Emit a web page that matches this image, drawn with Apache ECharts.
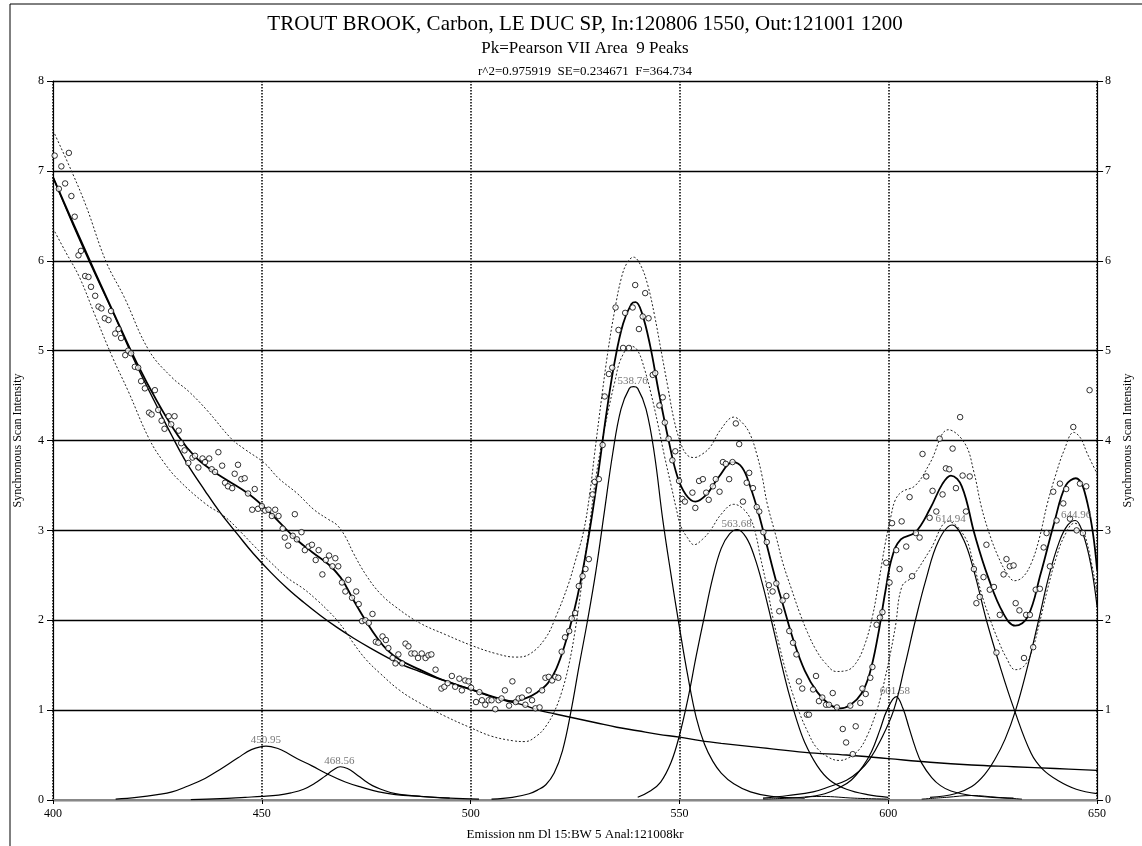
<!DOCTYPE html>
<html>
<head>
<meta charset="utf-8">
<script src="https://cdn.jsdelivr.net/npm/echarts@6/dist/echarts.min.js"></script>
<style>html,body{margin:0;padding:0;background:#fff;}#c{width:1142px;height:846px;}</style>
</head>
<body>
<div id="c"></div>
<script>
// ---- tick values ----
var xTicks = [400, 450, 500, 550, 600, 650];
var yTicks = [0, 1, 2, 3, 4, 5, 6, 7, 8];

// ---- observed data points [nm, intensity] ----
var observed = [
[400.4,7.17],[403.8,7.20],[402,7.05],[401.4,6.80],[402.9,6.86],[404.4,6.72],[405.2,6.49],[406.1,6.06],[406.7,6.11],[407.7,5.83],[408.5,5.82],[409.1,5.71],[410.1,5.61],[410.9,5.49],[411.6,5.47],[412.4,5.36],[413.3,5.34],[413.9,5.44],[414.9,5.19],[415.7,5.24],[416.3,5.14],[417.3,4.95],[418,5.0],[418.7,4.97],[419.6,4.82],[420.4,4.81],[421.1,4.66],[422,4.58],[424.4,4.56],[423,4.31],[423.6,4.29],[425.2,4.34],[426,4.22],[426.7,4.13],[427.7,4.27],[428.3,4.18],[429.1,4.27],[430.1,4.11],
[430.7,3.97],[431.5,3.89],[432.4,3.75],[433.4,3.81],[434,3.83],[434.8,3.70],[435.8,3.80],[436.4,3.76],[437.4,3.80],[438,3.68],[438.8,3.65],[439.6,3.87],[440.5,3.72],[441.2,3.53],[441.9,3.49],[442.9,3.47],[443.5,3.63],[444.3,3.73],[445.1,3.57],[445.9,3.58],[446.7,3.41],[447.7,3.23],[448.3,3.46],[449.1,3.24],[450,3.27],[450.8,3.22],[451.6,3.23],[452.4,3.16],[453.2,3.23],[454,3.16],[455,3.02],[455.5,2.92],[456.3,2.83],[457.4,2.94],[457.9,3.18],[458.4,2.90],
[459.5,2.98],[460.3,2.78],[461.2,2.82],[462,2.84],[462.9,2.67],[463.6,2.78],[464.5,2.51],[465.3,2.67],[466.1,2.72],[466.9,2.60],[467.6,2.69],[468.3,2.60],[469.2,2.42],[470,2.32],[470.7,2.45],[471.6,2.25],[472.6,2.32],[473.2,2.18],[474,1.99],[474.8,2.0],[475.6,1.97],[476.5,2.07],[477.3,1.76],[477.9,1.75],[478.9,1.82],[479.7,1.78],[480.3,1.69],[481.3,1.58],[482,1.52],[482.7,1.62],[483.6,1.52],[484.4,1.74],[485.1,1.71],[485.8,1.63],[486.6,1.63],[487.4,1.58],[488.3,1.63],[489.2,1.58],[489.9,1.61],[490.6,1.62],[491.6,1.45],[493,1.24],[493.7,1.26],[494.5,1.30],[495.5,1.38],[496.3,1.26],[497.3,1.35],[497.9,1.22],[498.7,1.33],[499.5,1.32],[500.1,1.25],[501.3,1.09],[502.1,1.2],[502.7,1.11],[503.5,1.06],[504.3,1.11],[505,1.11],[505.9,1.01],[506.7,1.11],[507.4,1.13],[508.2,1.22],[509.2,1.05],[510,1.32],[510.8,1.09],[511.5,1.13],[512.3,1.14],[513.1,1.06],[513.9,1.22],[514.7,1.11],[515.5,1.02],[516.5,1.03],[517.1,1.22],[517.9,1.36],[518.7,1.37],[519.5,1.33],[520.3,1.37],[521,1.36],[521.8,1.65],[522.6,1.81],[523.6,1.88],[524.2,2.02],[525,2.08],[525.9,2.38],[526.8,2.49],[527.5,2.57],[528.3,2.68],[529.2,3.4],[529.7,3.54],
[530.7,3.57],[531.6,3.95],[532.1,4.49],[533.1,4.74],[533.9,4.81],[534.7,5.48],[535.4,5.23],[536.5,5.03],[537,5.42],[537.9,5.03],[538.8,5.48],[539.4,5.73],[540.3,5.24],[541.2,5.38],[541.8,5.64],[542.6,5.36],[543.6,4.73],[544.2,4.75],[545.2,4.39],[546,4.48],[546.5,4.2],[547.4,4.02],[548.3,3.78],[549,3.88],[549.9,3.55],[550.7,3.35],[551.3,3.32],[553.1,3.42],
[553.8,3.25],[554.7,3.55],[555.6,3.57],[556.4,3.42],[557,3.34],[558,3.49],[558.7,3.57],[559.6,3.43],[560.4,3.76],[561.1,3.74],[561.9,3.57],[562.7,3.76],[563.5,4.19],[564.3,3.96],[565.2,3.32],[566.1,3.53],[566.7,3.64],[567.6,3.47],[568.5,3.26],[569.1,3.21],[570.1,2.98],[570.9,2.87],
[571.4,2.39],[572.3,2.32],[573.2,2.41],[573.9,2.10],[574.7,2.22],[575.6,2.27],[576.3,1.88],[577.2,1.75],[578,1.62],[578.6,1.32],[579.4,1.24],[580.5,0.95],[581,0.95],[582,1.23],[582.7,1.38],[583.4,1.10],[584.2,1.14],[585.1,1.06],[585.8,1.06],[586.7,1.19],[587.7,1.03],[589.1,0.79],[589.9,0.64],[590.9,1.05],[591.5,0.51],[592.2,0.82],[593.3,1.08],[593.8,1.24],[594.6,1.18],[595.7,1.36],[596.2,1.48],[597.2,1.95],[598,2.03],[598.6,2.09],[599.5,2.64],[600.3,2.42],[600.9,3.08],[601.9,2.78],[602.7,2.57],[603.2,3.10],
[604.3,2.82],[605.1,3.37],[605.7,2.49],[606.6,2.97],[607.5,2.92],[608.2,3.85],[609.1,3.6],[609.9,3.14],[610.6,3.44],[611.5,3.21],[612.3,4.02],[613,3.40],[613.8,3.69],[614.6,3.68],[615.4,3.91],[616.2,3.47],[617.2,4.26],[617.8,3.61],[618.6,3.21],[619.5,3.6],[620.5,2.57],[621.1,2.19],[621.9,2.26],[622.8,2.48],[623.5,2.84],[624.3,2.34],[625.3,2.37],[625.9,1.64],[626.7,2.06],[627.6,2.51],[628.3,2.68],[629.1,2.60],[630,2.61],[630.5,2.19],[631.4,2.11],[632.5,1.58],[633,2.06],[633.9,2.06],[634.7,1.70],[635.3,2.34],[636.3,2.35],[637.2,2.81],[637.9,2.97],[638.7,2.60],[639.5,3.43],[640.3,3.11],[641.1,3.52],[641.9,3.30],[642.6,3.46],[643.5,3.13],[644.3,4.15],[645.1,3.0],[645.9,3.52],[646.6,2.97],[647.4,3.49],[648.2,4.56]
];

// ---- fitted total curve ----
var fitCurve = [[400,6.93],[405,6.4],[410,5.88],[415,5.37],[420,4.87],[425,4.43],[430,4.05],[434,3.82],[438,3.67],[442,3.55],[446.7,3.41],[450.3,3.27],[454,3.1],[458.5,2.89],[462,2.76],[466,2.62],[468.8,2.48],[470.5,2.35],[472,2.22],[475.2,1.97],[477.5,1.81],[480,1.67],[483,1.56],[487.8,1.45],[492,1.36],[496,1.29],[500.2,1.23],[504,1.17],[507.6,1.12],[510,1.1],[513.1,1.13],[516,1.2],[518.5,1.3],[520.5,1.46],[522.5,1.72],[524.5,2.05],[526.5,2.47],[528.5,3.0],[530.5,3.62],[532.5,4.3],[534.5,4.88],[536.5,5.3],[538.5,5.52],[539.5,5.54],[541,5.42],[543,5.05],[545,4.55],[547.5,3.98],[549.5,3.6],[551.5,3.4],[553.8,3.32],[556.5,3.4],[559.5,3.6],[562.8,3.76],[565,3.7],[567,3.48],[569,3.18],[571,2.82],[573,2.46],[575,2.14],[577.2,1.79],[580,1.44],[583,1.2],[586,1.06],[588.5,1.02],[591,1.06],[593.5,1.18],[595.5,1.4],[597.5,1.82],[599.3,2.32],[600.9,2.7],[603,2.9],[606.5,2.98],[610,3.24],[613,3.52],[615,3.61],[617.6,3.49],[620.7,2.95],[623.9,2.48],[627.5,2.08],[630.4,1.94],[633.4,2.04],[636.5,2.52],[639.7,3.08],[642.5,3.5],[644.9,3.58],[647.7,3.3],[650,2.56]];

// ---- confidence limits ----
var upperBand = [[400,7.45],[404.7,6.97],[408,6.6],[412.7,5.99],[417,5.6],[423,5.0],[428.5,4.7],[432.4,4.55],[437,4.33],[442.7,4.02],[446,3.9],[450.6,3.75],[454,3.58],[458.5,3.41],[462.5,3.23],[466,3.12],[468,3.06],[470,2.93],[472,2.74],[475,2.5],[478.3,2.3],[482,2.15],[487.8,1.97],[494,1.84],[500.2,1.72],[506,1.63],[510.8,1.59],[514,1.62],[517.9,1.8],[520.5,2.05],[523.4,2.4],[525,2.65],[527,2.98],[528.5,3.4],[529.7,3.86],[531.3,4.45],[532.9,5.0],[534.5,5.45],[536.1,5.81],[537.5,5.98],[539,6.04],[540.7,5.95],[542.4,5.73],[544,5.4],[545.6,5.0],[547.2,4.6],[548.7,4.23],[550.3,3.97],[551.8,3.84],[553.5,3.81],[555.5,3.85],[557.4,3.93],[560,4.13],[563,4.26],[565,4.2],[566.9,4.07],[568.5,3.85],[569.8,3.6],[571,3.3],[573.2,2.92],[574.8,2.63],[576.8,2.35],[578.8,2.08],[580.7,1.86],[582.7,1.67],[585,1.52],[587.5,1.43],[590,1.44],[592.2,1.52],[594.3,1.72],[596.2,2.04],[597.8,2.45],[599.3,2.86],[600.6,3.15],[601.7,3.34],[603.3,3.43],[606.5,3.5],[610,3.75],[614.4,4.12],[618.3,3.97],[620.5,3.65],[622.3,3.26],[624.3,2.95],[626.3,2.71],[628.3,2.53],[630.2,2.44],[632.2,2.48],[634.2,2.63],[636.1,2.9],[638.1,3.3],[640.1,3.62],[642.1,3.89],[644.4,4.09],[646,4.03],[647.6,3.86],[650,3.63]];
var lowerBand = [[400,6.36],[403,6.1],[406.3,5.82],[410,5.4],[414.2,4.93],[418,4.55],[423,4.02],[426.5,3.76],[430.1,3.56],[436.4,3.3],[441.2,3.15],[445,2.98],[448.3,2.82],[452,2.65],[456.2,2.47],[460,2.35],[463.3,2.22],[466,2.1],[468,2.0],[470,1.88],[472,1.74],[475,1.56],[478.3,1.41],[483,1.22],[487.8,1.08],[494,0.93],[500.2,0.8],[505,0.71],[510,0.66],[513,0.65],[516,0.72],[518,0.82],[520,0.98],[521.8,1.2],[523.5,1.5],[525,1.88],[526.3,2.3],[527.4,2.7],[528.6,3.1],[529.7,3.5],[531.3,3.95],[532.9,4.32],[534.5,4.65],[536.1,4.92],[538.5,5.05],[540,5.0],[541.6,4.8],[543.2,4.52],[544.8,4.19],[546.4,3.83],[548,3.5],[549.2,3.25],[550.3,3.05],[551.9,2.92],[553.5,2.84],[555.5,2.9],[557.4,3.0],[560,3.18],[563,3.29],[565,3.25],[567,3.13],[568.3,2.95],[569.3,2.72],[571,2.36],[572.5,2.0],[574,1.7],[575.6,1.41],[577.2,1.17],[578.8,0.96],[580.7,0.76],[582.7,0.59],[585.5,0.48],[588.3,0.44],[590.5,0.47],[593,0.56],[595,0.72],[597,0.96],[598.2,1.15],[599.3,1.37],[600.5,1.63],[601.7,1.93],[603.3,2.38],[605.7,2.48],[610,2.78],[614.4,3.1],[618.3,2.93],[620.3,2.65],[622.3,2.3],[624.3,2.02],[626.3,1.78],[628.3,1.58],[630.4,1.45],[632.3,1.48],[634.2,1.63],[636.1,1.95],[638.1,2.34],[640.1,2.68],[642.1,2.93],[644.6,3.08],[646,3.04],[647.6,2.86],[650,2.3]];

// ---- fitted component peaks ----
var baseline = [[400,6.93],[405,6.38],[410,5.86],[415,5.36],[420,4.84],[425,4.37],[428.5,4.05],[432,3.75],[436.4,3.44],[440,3.2],[444.3,2.95],[448,2.74],[452.2,2.53],[456.2,2.35],[460,2.2],[464.1,2.05],[468,1.92],[472,1.8],[476,1.69],[479.9,1.59],[483.8,1.5],[487.8,1.43],[491.7,1.36],[495.7,1.3],[500,1.23],[503.6,1.17],[508,1.11],[513.1,1.05],[516.2,1.0],[520,0.96],[525,0.91],[530,0.86],[535,0.81],[540,0.77],[545,0.73],[550,0.7],[555,0.66],[560,0.63],[570,0.58],[580,0.53],[590,0.5],[600,0.46],[610,0.42],[620,0.39],[630,0.37],[640,0.35],[650,0.33]];
var peak45095 = [[415,0.01],[420,0.03],[425,0.06],[428.5,0.09],[432,0.15],[436.4,0.24],[440,0.34],[444.3,0.47],[447.5,0.56],[451,0.6],[454,0.57],[456.2,0.52],[458.5,0.46],[462,0.38],[465.7,0.29],[470,0.2],[474,0.14],[478,0.09],[482,0.06],[488,0.04],[495,0.02]];
var peak46856 = [[433,0.005],[440,0.015],[446,0.03],[450,0.04],[454,0.055],[457,0.08],[460,0.12],[462.5,0.18],[465,0.26],[467,0.33],[468.8,0.37],[470.5,0.35],[472.5,0.29],[474.5,0.22],[476.5,0.16],[478.5,0.12],[482,0.07],[488,0.04],[495,0.02],[502,0.01]];
var peak53876 = [[505,0.01],[510,0.03],[514,0.07],[516,0.11],[518,0.17],[520,0.3],[522,0.55],[524,0.98],[526,1.5],[528,2.0],[530,2.55],[532,3.2],[534,3.85],[536,4.35],[538,4.58],[539,4.6],[540,4.58],[542,4.35],[544,3.85],[546,3.12],[548,2.5],[550,1.92],[552,1.38],[554,0.92],[556,0.62],[558,0.43],[560,0.3],[563,0.18],[567,0.09],[572,0.04],[580,0.02]];
var peak56368 = [[540,0.03],[543,0.1],[545.5,0.2],[548,0.42],[550,0.72],[552,1.12],[554,1.6],[556,2.05],[558,2.48],[560,2.8],[562,2.96],[563.8,3.01],[566,2.92],[568,2.7],[570,2.38],[572,2.0],[574,1.6],[576,1.22],[578,0.9],[580,0.64],[583,0.38],[586,0.22],[590,0.12],[595,0.06],[600,0.03]];
var peak60158 = [[580,0.03],[584.8,0.07],[588,0.13],[591.1,0.22],[594,0.38],[596,0.54],[598,0.78],[599.7,1.0],[601.9,1.15],[603.5,1.02],[605,0.8],[606.5,0.58],[608,0.41],[610.4,0.25],[612.5,0.16],[615,0.1],[619.9,0.05],[625,0.03],[630,0.02]];
var peak61494 = [[570,0.02],[576,0.05],[582,0.09],[586,0.15],[590,0.22],[593,0.32],[595.5,0.45],[598,0.65],[601.3,1.0],[604,1.5],[606.5,2.0],[609,2.45],[612,2.88],[615.3,3.06],[618,2.9],[620.5,2.55],[623.5,2.0],[627,1.45],[630.2,1.0],[634.2,0.52],[637,0.34],[640.5,0.22],[645,0.12],[650,0.07]];
var peak64496 = [[610,0.03],[616,0.07],[620,0.15],[623,0.28],[625.5,0.45],[628,0.68],[630.5,1.0],[633,1.42],[636,2.0],[638.5,2.5],[641,2.88],[643,3.06],[644.8,3.11],[646.5,2.98],[648.5,2.62],[650,2.15]];
var peakSmallA = [[570,0.01],[576,0.02],[584,0.04],[592,0.02],[600,0.01]];
var peakSmallB = [[608,0.01],[614,0.03],[620,0.05],[626,0.03],[632,0.01]];

// ---- peak labels [nm, height, text] ----
var peakLabels = [[450.95,0.6,'450.95'],[468.56,0.37,'468.56'],[538.76,4.6,'538.76'],[563.68,3.01,'563.68'],[601.58,1.15,'601.58'],[614.94,3.06,'614.94'],[644.96,3.11,'644.96']];

var FONT = '"Liberation Serif", "Times New Roman", serif';
var chart = echarts.init(document.getElementById('c'), null, {renderer: 'canvas'});

function lineSeries(data, width, type, color) {
  return {
    type: 'line', data: data, showSymbol: false, symbol: 'none',
    smooth: 0.4, silent: true, animation: false,
    lineStyle: {color: color || '#000', width: width, type: type || 'solid'},
    z: 3
  };
}

var series = [
  lineSeries(baseline, 1.4),
  lineSeries(peak45095, 1.2),
  lineSeries(peak46856, 1.2),
  lineSeries(peak53876, 1.2),
  lineSeries(peak56368, 1.2),
  lineSeries(peak60158, 1.2),
  lineSeries(peak61494, 1.2),
  lineSeries(peak64496, 1.2),
  lineSeries(peakSmallA, 1.0),
  lineSeries(peakSmallB, 1.0),
  lineSeries(upperBand, 1.0, [2, 2], '#222'),
  lineSeries(lowerBand, 1.0, [2, 2], '#222'),
  lineSeries(fitCurve, 1.8),
  {
    type: 'scatter', data: observed, symbol: 'circle', symbolSize: 5.5,
    itemStyle: {color: '#fff', borderColor: '#000', borderWidth: 1},
    silent: true, animation: false, z: 5
  },
  {
    type: 'scatter', data: peakLabels.map(function (p) { return [p[0], p[1], p[2]]; }),
    symbolSize: 0, silent: true, animation: false, z: 6,
    label: {show: true, position: 'top', distance: 0, formatter: function (p) { return p.data[2]; },
      color: '#555', fontFamily: FONT, fontSize: 11}
  }
];

var option = {
  backgroundColor: '#fff',
  animation: false,
  title: [
    {text: 'TROUT BROOK, Carbon, LE DUC SP, In:120806 1550, Out:121001 1200', left: 580, top: 9, textAlign: 'center',
      textStyle: {fontFamily: FONT, fontSize: 21, fontWeight: 'normal', color: '#000'}},
    {text: 'Pk=Pearson VII Area  9 Peaks', left: 580, top: 35, textAlign: 'center',
      textStyle: {fontFamily: FONT, fontSize: 17, fontWeight: 'normal', color: '#000'}},
    {text: 'r^2=0.975919  SE=0.234671  F=364.734', left: 580, top: 60, textAlign: 'center',
      textStyle: {fontFamily: FONT, fontSize: 13, fontWeight: 'normal', color: '#000'}}
  ],
  grid: {left: 53, right: 35, top: 81, bottom: 46, containLabel: false},
  xAxis: {
    type: 'value', min: xTicks[0], max: xTicks[xTicks.length - 1], interval: 50,
    name: 'Emission nm Dl 15:BW 5 Anal:121008kr', nameLocation: 'middle', nameGap: 28,
    nameTextStyle: {fontFamily: FONT, fontSize: 13, color: '#000'},
    axisLine: {show: true, lineStyle: {color: '#888', width: 2}},
    axisTick: {show: true, length: 4, lineStyle: {color: '#000'}},
    axisLabel: {fontFamily: FONT, fontSize: 12, color: '#000', margin: 8},
    splitLine: {show: true, lineStyle: {color: '#000', width: 1.5, type: [1.5, 1.5]}}
  },
  yAxis: [
    {
      type: 'value', min: yTicks[0], max: yTicks[yTicks.length - 1], interval: 1, position: 'left',
      name: 'Synchronous Scan Intensity', nameLocation: 'middle', nameGap: 29, nameRotate: 90,
      nameTextStyle: {fontFamily: FONT, fontSize: 12, color: '#000'},
      axisLine: {show: true, lineStyle: {color: '#000', width: 1.2}},
      axisTick: {show: true, length: 6, lineStyle: {color: '#000'}},
      axisLabel: {fontFamily: FONT, fontSize: 12, color: '#000', margin: 9},
      splitLine: {show: true, lineStyle: {color: '#000', width: 1.4}}
    },
    {
      type: 'value', min: yTicks[0], max: yTicks[yTicks.length - 1], interval: 1, position: 'right',
      name: 'Synchronous Scan Intensity', nameLocation: 'middle', nameGap: 22, nameRotate: 90,
      nameTextStyle: {fontFamily: FONT, fontSize: 12, color: '#000'},
      axisLine: {show: true, lineStyle: {color: '#000', width: 1.2}},
      axisTick: {show: true, length: 6, lineStyle: {color: '#000'}},
      axisLabel: {fontFamily: FONT, fontSize: 12, color: '#000', margin: 8},
      splitLine: {show: false}
    }
  ],
  graphic: [
    {type: 'line', shape: {x1: 10, y1: 4, x2: 1142, y2: 4}, style: {stroke: '#000', lineWidth: 1}, silent: true},
    {type: 'line', shape: {x1: 10, y1: 4, x2: 10, y2: 846}, style: {stroke: '#000', lineWidth: 1}, silent: true}
  ],
  series: series
};
chart.setOption(option);
</script>
</body>
</html>
